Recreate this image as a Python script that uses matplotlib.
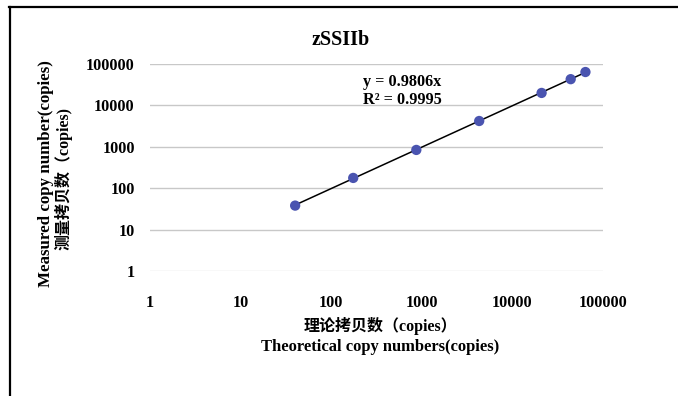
import matplotlib
matplotlib.use('Agg')
import matplotlib.pyplot as plt
import numpy as np
from matplotlib.lines import Line2D

# standard curve data
theoretical = [40, 175, 870, 4300, 21000, 44000, 64000]
measured = [38, 177, 840, 4200, 20000, 43000, 64000]
slope = 0.9806
r2 = 0.9995
ticks = [1, 10, 100, 1000, 10000, 100000]
tick_labels = ['1', '10', '100', '1000', '10000', '100000']

serif = ['Liberation Serif', 'Noto Sans CJK SC']
plt.rcParams['font.family'] = serif

fig = plt.figure(figsize=(6.78, 3.96), dpi=100)
ax = fig.add_axes([150/678, 1 - 271/396, 453/678, 207/396])

ax.set_xscale('log')
ax.set_yscale('log')
ax.set_xlim(1, 100000)
ax.set_ylim(1, 100000)

# horizontal gridlines only
for t in ticks:
    ax.axhline(t, color='#c8c8c8' if t > 1 else '#dcdcdc', lw=1.0, zorder=0)

ax.scatter(theoretical, measured, s=55, color='#4a54b0', zorder=3, edgecolors='none')

xfit = np.array([theoretical[0], theoretical[-1]])
ax.plot(xfit, slope * xfit, color='black', lw=1.1, zorder=2)

ax.set_xticks(ticks)
ax.set_xticklabels(tick_labels)
ax.set_yticks(ticks)
ax.set_yticklabels(tick_labels)
ax.minorticks_off()
ax.tick_params(length=0, labelsize=11.7)
ax.tick_params(axis='x', pad=17)
ax.tick_params(axis='y', pad=11)
for lab in ax.get_xticklabels() + ax.get_yticklabels():
    lab.set_fontweight('bold')
for s in ax.spines.values():
    s.set_visible(False)

fig.text(341/678, 1 - 40/396, 'zSSIIb', ha='center', va='center',
         fontsize=14.5, fontweight='bold')

fig.text(363/678, 1 - 82/396, 'y = 0.9806x', ha='left', va='center',
         fontsize=11.7, fontweight='bold')
fig.text(363/678, 1 - 100/396, 'R² = %.4f' % r2, ha='left', va='center',
         fontsize=11.7, fontweight='bold')

# axis titles, two lines each
fig.text(46/678, 1 - 174/396, 'Measured copy number(copies)', rotation=90,
         ha='center', va='center', fontsize=12.2, fontweight='bold')
fig.text(63/678, 1 - 178/396, '测量拷贝数（copies)', rotation=90,
         ha='center', va='center', fontsize=11.5, fontweight='bold')
fig.text(380/678, 1 - 326/396, '理论拷贝数（copies）', ha='center', va='center',
         fontsize=11.5, fontweight='bold')
fig.text(380/678, 1 - 347/396, 'Theoretical copy numbers(copies)', ha='center',
         va='center', fontsize=11.9, fontweight='bold')

# outer frame (left and top edges)
fig.add_artist(Line2D([9.5/678, 9.5/678], [0, 1 - 7/396], color='black', lw=1.6,
                      transform=fig.transFigure))
fig.add_artist(Line2D([9/678, 1], [1 - 7/396, 1 - 7/396], color='black', lw=1.6,
                      transform=fig.transFigure))

fig.savefig('out.png', dpi=100)
